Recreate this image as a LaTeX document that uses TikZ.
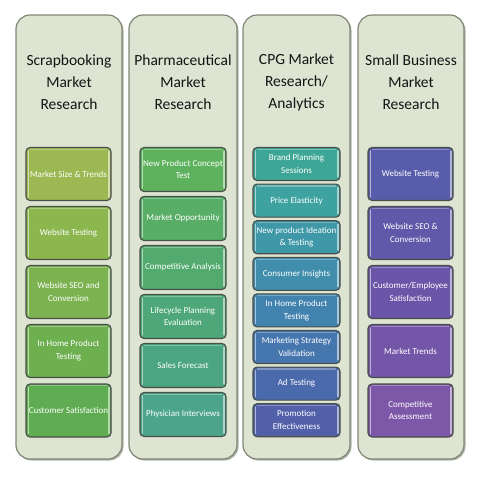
\documentclass[tikz,border=0pt]{standalone}
\usepackage{fontspec}
\setmainfont{Carlito}
\begin{document}
\begin{tikzpicture}[x=1pt,y=-1pt,
  panel/.style={draw={rgb,255:red,128;green,134;blue,118}, line width=1.2pt, fill={rgb,255:red,221;green,228;blue,210}, rounded corners=14pt},
  shadowp/.style={fill={rgb,255:red,175;green,180;blue,168}, rounded corners=14pt},
  title/.style={align=center, font=\fontsize{15.5}{22}\selectfont, text={rgb,255:red,20;green,20;blue,20}},
  boxs/.style={draw={rgb,255:red,72;green,78;blue,72}, line width=1.1pt, rounded corners=4pt, text=white, align=center, inner sep=1pt, font=\fontsize{9}{12.8}\selectfont},
  hl/.style={white, opacity=0.55, line width=1.1pt, line cap=round}
]
\useasboundingbox (0,0) rectangle (480,480);
\fill[white] (0,0) rectangle (480,480);
% panels with slight shadow
\foreach \a/\b in {16/122,129/237,243/350,358/464}{
  \fill[shadowp] (\a+1.5,16.5) rectangle (\b+1.5,460.5);
}
\draw[panel] (16,15) rectangle (122,459);
\draw[panel] (129,15) rectangle (237,459);
\draw[panel] (243,15) rectangle (350,459);
\draw[panel] (358,15) rectangle (464,459);
\node[title] (t1) at (69,82) {Scrapbooking\\Market\\Research};
\node[title] (t2) at (183,82) {Pharmaceutical\\Market\\Research};
\node[title] (t3) at (296.5,82) {CPG Market\\Research/\\Analytics};
\node[title] (t4) at (411,82) {Small Business\\Market\\Research};
\newcommand\mybox[7]{% name, cx, cy, w, h, rgb, text
  \definecolor{tmpc}{RGB}{#6}
  \node[boxs, fill=tmpc, minimum width=#4pt, minimum height=#5pt] (#1) at (#2,#3) {#7};
  \draw[hl] ([xshift=2.6pt,yshift=-4pt]#1.north west) -- ([xshift=2.6pt,yshift=4pt]#1.south west);
  \draw[hl] ([xshift=-2.6pt,yshift=-4pt]#1.north east) -- ([xshift=-2.6pt,yshift=4pt]#1.south east);
  \draw[hl, opacity=0.3] ([xshift=5pt,yshift=-2.4pt]#1.north west) -- ([xshift=-5pt,yshift=-2.4pt]#1.north east);
}
% column 1
\mybox{a1}{68.5}{174}{85}{53}{156,184,82}{Market Size \& Trends}
\mybox{a2}{68.5}{233}{85}{53}{140,182,78}{Website Testing}
\mybox{a3}{68.5}{292}{85}{53}{124,178,80}{Website SEO and\\Conversion}
\mybox{a4}{68.5}{351}{85}{53}{110,175,80}{In Home Product\\Testing}
\mybox{a5}{68.5}{410.5}{85}{53}{96,172,82}{Customer Satisfaction}
% column 2
\mybox{b1}{183}{169.5}{86}{44}{94,178,94}{New Product Concept\\Test}
\mybox{b2}{183}{218.5}{86}{44}{88,174,102}{Market Opportunity}
\mybox{b3}{183}{267.5}{86}{44}{82,170,110}{Competitive Analysis}
\mybox{b4}{183}{316.5}{86}{44}{78,167,120}{Lifecycle Planning\\Evaluation}
\mybox{b5}{183}{365.5}{86}{44}{76,165,130}{Sales Forecast}
\mybox{b6}{183}{414.5}{86}{44}{76,164,138}{Physician Interviews}
% column 3
\mybox{c1}{296.5}{164}{87}{33}{62,166,150}{Brand Planning\\Sessions}
\mybox{c2}{296.5}{200.6}{87}{33}{62,162,160}{Price Elasticity}
\mybox{c3}{296.5}{237.2}{87}{33}{62,152,168}{New product Ideation\\\& Testing}
\mybox{c4}{296.5}{273.8}{87}{33}{64,142,172}{Consumer Insights}
\mybox{c5}{296.5}{310.4}{87}{33}{66,130,174}{In Home Product\\Testing}
\mybox{c6}{296.5}{347}{87}{33}{70,118,174}{Marketing Strategy\\Validation}
\mybox{c7}{296.5}{383.6}{87}{33}{74,106,172}{Ad Testing}
\mybox{c8}{296.5}{420.2}{87}{33}{82,96,170}{Promotion\\Effectiveness}
% column 4
\mybox{d1}{410.5}{174}{85}{53}{88,92,170}{Website Testing}
\mybox{d2}{410.5}{233}{85}{53}{96,88,168}{Website SEO \&\\Conversion}
\mybox{d3}{410.5}{292}{85}{53}{106,85,168}{Customer/Employee\\Satisfaction}
\mybox{d4}{410.5}{351}{85}{53}{116,86,168}{Market Trends}
\mybox{d5}{410.5}{410.5}{85}{53}{126,88,168}{Competitive\\Assessment}
\end{tikzpicture}
\end{document}
